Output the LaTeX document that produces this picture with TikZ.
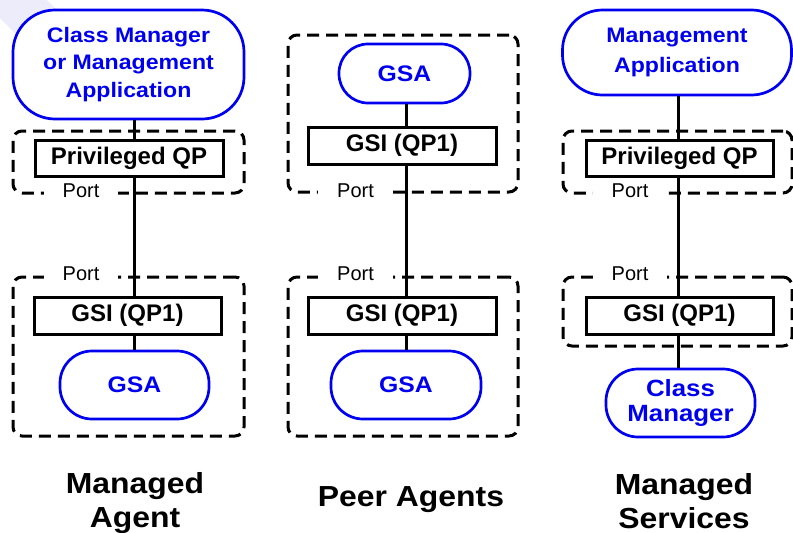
\documentclass[tikz,border=0pt]{standalone}
\usepackage{fontspec}
\setmainfont{Liberation Sans}
\newfontfamily\widefont[FakeStretch=1.1]{Liberation Sans}
\definecolor{dblue}{RGB}{0,0,240}
\definecolor{lav}{RGB}{236,236,250}
\begin{document}
\begin{tikzpicture}[x=1pt,y=-1pt,
  bluebox/.style={draw=dblue, line width=2.7pt, fill=white, text=dblue, inner sep=0pt, align=center},
  qpbox/.style={draw=black, line width=3pt, fill=white, inner sep=0pt, font=\bfseries\fontsize{24}{28}\selectfont},
  dashbox/.style={draw=black, line width=3pt, dash pattern=on 12pt off 7pt, rounded corners=9pt, inner sep=0pt},
  portlbl/.style={fill=white, inner xsep=19pt, inner ysep=1pt, font=\fontsize{20}{22}\selectfont},
  link/.style={line width=3pt},
  ttl/.style={font=\widefont\bfseries\fontsize{29}{34}\selectfont, align=center, inner sep=0pt}]
\useasboundingbox (0,0) rectangle (793,533);
% faint background band
\fill[lav] (0,0) -- (47,0) -- (80,33) -- (40,58) -- (0,18) -- cycle;

% column coordinates
\coordinate (c1) at (134,0);
\coordinate (c2) at (406,0);
\coordinate (c3) at (678,0);

% dashed groups
\node[dashbox, minimum width=231pt, minimum height=62pt] (d1a) at (128.5,162) {};
\node[dashbox, minimum width=231pt, minimum height=159pt] (d1b) at (128.5,356.5) {};
\node[dashbox, minimum width=230pt, minimum height=157pt] (d2a) at (403,113.5) {};
\node[dashbox, minimum width=230pt, minimum height=159pt] (d2b) at (403,356.5) {};
\node[dashbox, minimum width=229pt, minimum height=62pt] (d3a) at (677.5,162) {};
\node[dashbox, minimum width=229pt, minimum height=69pt] (d3b) at (677.5,311.5) {};

% port labels
\node[portlbl] (p1a) at (81,191) {Port};
\node[portlbl] (p1b) at (81,274) {Port};
\node[portlbl] (p2a) at (355.5,191) {Port};
\node[portlbl] (p2b) at (355.5,274) {Port};
\node[portlbl] (p3a) at (630,191) {Port};
\node[portlbl] (p3b) at (630,274) {Port};

% column 1: Managed Agent
\node[bluebox, minimum width=231pt, minimum height=109pt, rounded corners=42pt,
  font=\widefont\bfseries\fontsize{21}{27.5}\selectfont] (cm1) at (128.5,64.5)
  {Class Manager\\or Management\\Application};
\node[qpbox, minimum width=188pt, minimum height=36pt] (pqp1) at (129,158) {Privileged QP};
\node[qpbox, minimum width=187pt, minimum height=37pt] (gsi1) at (127.5,315.5) {GSI (QP1)};
\node[bluebox, minimum width=149pt, minimum height=68pt, rounded corners=32pt,
  font=\widefont\bfseries\fontsize{22.5}{27}\selectfont] (gsa1) at (134.5,385) {GSA};

% column 2: Peer Agents
\node[bluebox, minimum width=131pt, minimum height=59pt, rounded corners=29pt,
  font=\widefont\bfseries\fontsize{22.5}{27}\selectfont] (gsa2a) at (404.5,73.5) {GSA};
\node[qpbox, minimum width=188pt, minimum height=37pt] (gsi2a) at (402,145.5) {GSI (QP1)};
\node[qpbox, minimum width=188pt, minimum height=37pt] (gsi2b) at (402,315.5) {GSI (QP1)};
\node[bluebox, minimum width=150pt, minimum height=68pt, rounded corners=32pt,
  font=\widefont\bfseries\fontsize{22.5}{27}\selectfont] (gsa2b) at (406,385) {GSA};

% column 3: Managed Services
\node[bluebox, minimum width=229pt, minimum height=85pt, rounded corners=40pt,
  font=\widefont\bfseries\fontsize{21}{30}\selectfont] (ma) at (677,52.5)
  {Management\\Application};
\node[qpbox, minimum width=187pt, minimum height=36pt] (pqp3) at (679.5,158) {Privileged QP};
\node[qpbox, minimum width=187pt, minimum height=37pt] (gsi3) at (679.5,315.5) {GSI (QP1)};
\node[bluebox, minimum width=149pt, minimum height=68pt, rounded corners=32pt,
  font=\widefont\bfseries\fontsize{23.5}{25}\selectfont] (cm3) at (680.5,403)
  {Class\\Manager};

% connectors
\draw[link] (cm1.south -| c1) -- (pqp1.north -| c1);
\draw[link] (pqp1.south -| c1) -- (gsi1.north -| c1);
\draw[link] (gsi1.south -| c1) -- (gsa1.north -| c1);
\draw[link] (gsa2a.south -| c2) -- (gsi2a.north -| c2);
\draw[link] (gsi2a.south -| c2) -- (gsi2b.north -| c2);
\draw[link] (gsi2b.south -| c2) -- (gsa2b.north -| c2);
\draw[link] (ma.south -| c3) -- (pqp3.north -| c3);
\draw[link] (pqp3.south -| c3) -- (gsi3.north -| c3);
\draw[link] (gsi3.south -| c3) -- (cm3.north -| c3);

% titles
\node[ttl] (t1) at (135,503) {Managed\\Agent};
\node[ttl, anchor=base] (t2) at (411,506) {Peer Agents};
\node[ttl] (t3) at (684,501) {Managed\\Services};
\end{tikzpicture}
\end{document}
